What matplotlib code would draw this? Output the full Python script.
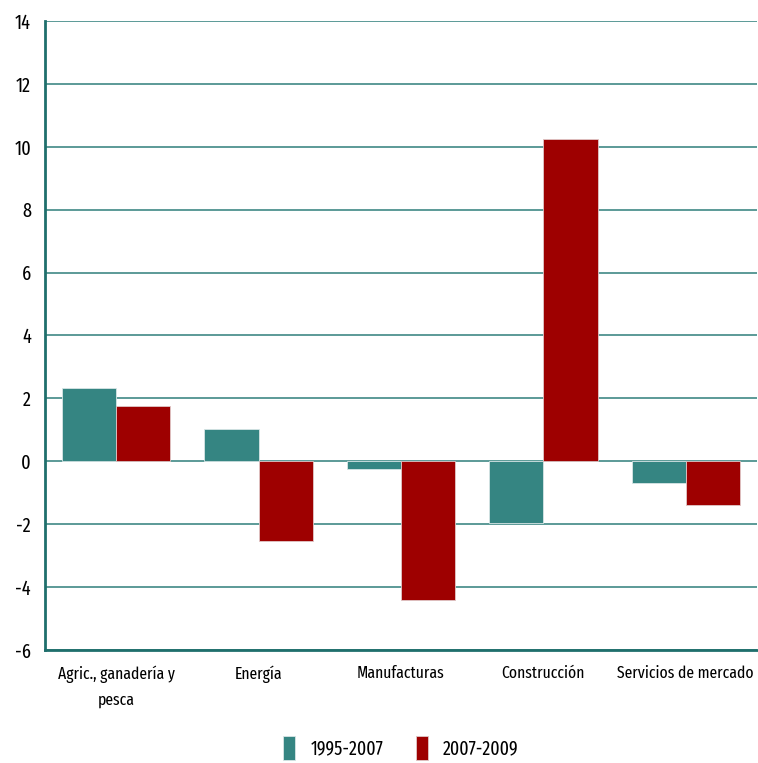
import numpy as np
import matplotlib
matplotlib.use('Agg')
import matplotlib.pyplot as plt
from matplotlib import font_manager
from matplotlib.font_manager import FontProperties
from matplotlib.textpath import TextPath

categories = ['Agric., ganadería y\npesca', 'Energía', 'Manufacturas', 'Construcción', 'Servicios de mercado']
serie_1995_2007 = [2.33, 1.04, -0.24, -1.95, -0.70]
serie_2007_2009 = [1.75, -2.55, -4.42, 10.24, -1.40]
series_labels = ['1995-2007', '2007-2009']

# narrow font, like the squeezed Tahoma of the original
names = {f.name for f in font_manager.fontManager.ttflist}
candidates = ['Fira Sans Extra Condensed', 'Roboto Condensed', 'Barlow Condensed',
              'Archivo Narrow', 'PT Sans Narrow', 'Liberation Sans Narrow', 'DejaVu Sans']
fam = next(c for c in candidates if c in names)
plt.rcParams['font.family'] = [fam, 'DejaVu Sans']
plt.rcParams['axes.unicode_minus'] = False


def fit_size(s, px):
    wid = TextPath((0, 0), s, size=1, prop=FontProperties(family=fam)).get_extents().width
    return px / (wid * 100 / 72)


fs = min(fit_size('Servicios de mercado', 136), 16)
fs_leg = min(fit_size('1995-2007', 72), 18)
fs_y = min(fit_size('14', 15), 18)

teal = '#358582'
red = '#9e0000'
grid_col = '#2f7e7b'
axis_col = '#1f6f6c'

fig = plt.figure(figsize=(7.58, 7.63), dpi=100)
ax = fig.add_axes([45/758, 1 - 650/763, 712/758, (650 - 21)/763])

x = np.arange(len(categories))
w = 0.38
ax.bar(x - w/2, serie_1995_2007, w, color=teal, edgecolor='#d8e6e6', linewidth=0.6, label=series_labels[0], zorder=3)
ax.bar(x + w/2, serie_2007_2009, w, color=red, edgecolor='#e0c8c8', linewidth=0.6, label=series_labels[1], zorder=3)

ax.set_xlim(-0.5, len(categories) - 0.5)
ax.set_ylim(-6, 14)
ax.set_yticks(np.arange(-6, 15, 2))
ax.yaxis.grid(True, color=grid_col, linewidth=1.1, zorder=1)
ax.set_axisbelow(True)
for s in ['top', 'right']:
    ax.spines[s].set_visible(False)
for s in ['left', 'bottom']:
    ax.spines[s].set_color(axis_col)
    ax.spines[s].set_linewidth(2)
ax.tick_params(axis='both', length=0, colors='black')
ax.tick_params(axis='y', pad=10, labelsize=fs_y)
ax.tick_params(axis='x', pad=11, labelsize=fs)
ax.set_xticks(x)
ax.set_xticklabels(categories, linespacing=1.75)

fig.legend(loc='center', bbox_to_anchor=(0.529, 1 - 748/763), ncol=2, frameon=False,
           fontsize=fs_leg, handlelength=0.6, handleheight=1.6, columnspacing=1.7, handletextpad=0.8)

fig.savefig('out.png', dpi=100)
